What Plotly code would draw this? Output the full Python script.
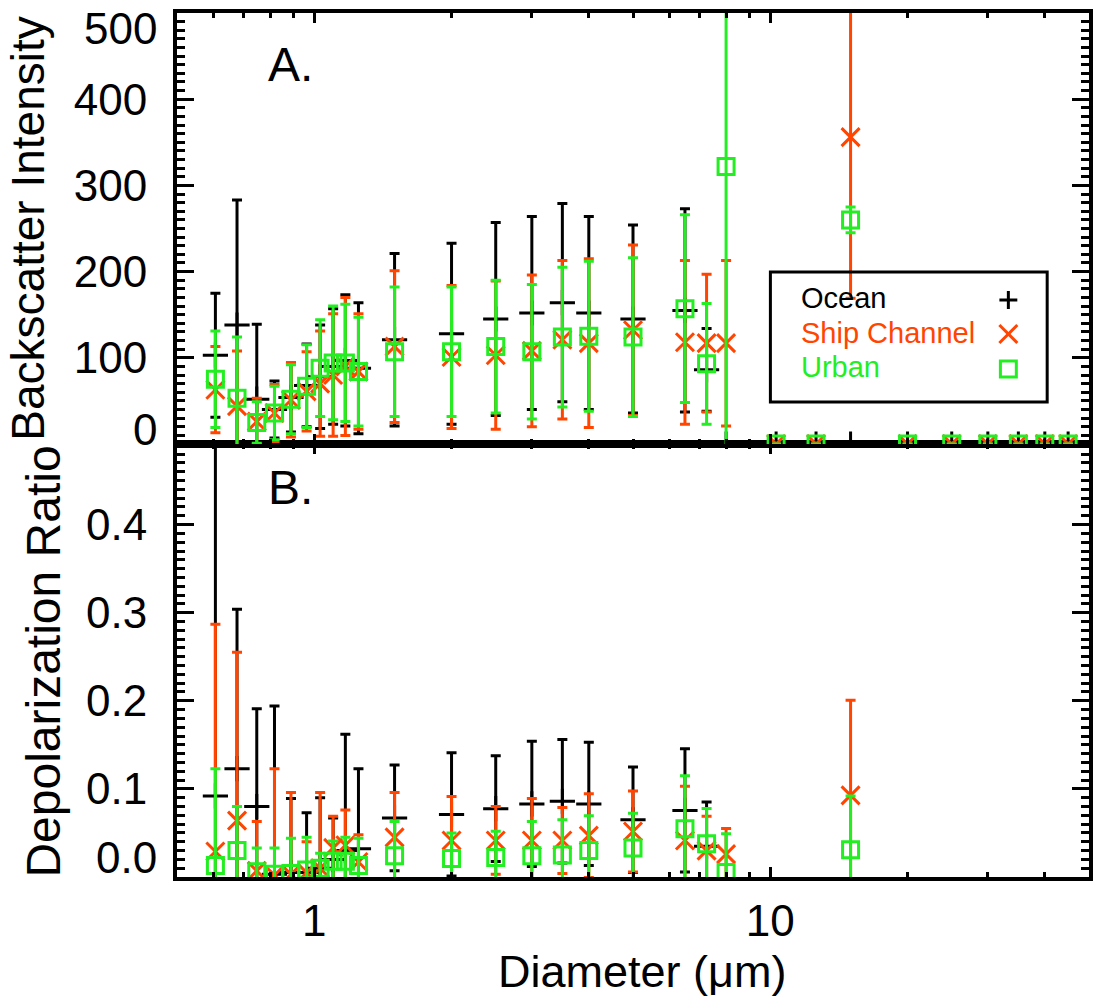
import math
import plotly.graph_objects as go

# ---------------- data ----------------
diameter = [0.607, 0.677, 0.748, 0.818, 0.889, 0.962, 1.03, 1.10, 1.17, 1.25,
            1.5, 2.0, 2.5, 3.0, 3.5, 4.0, 5.0, 6.5, 7.25, 8.0,
            10.3, 12.6, 15.0, 20.0, 25.0, 30.0, 35.0, 40.0, 45.0]

# Panel A: backscatter intensity (value, error)
ocean_bs = [103, 138, 52, 40, 54, 68, 78, 90, 97, 88,
            121, 128, 145, 152, 164, 152, 145, 155, 86, 0,
            0, 0, 0, 0, 0, 0, 0, 0, 0]
ocean_bs_err = [72, 145, 87, 33, 40, 48, 60, 67, 76, 76,
                100, 105, 112, 112, 115, 112, 109, 118, 48, 0,
                0, 0, 0, 0, 0, 0, 0, 0, 0]
ship_bs = [63, 44, 26, 36, 51, 61, 70, 80, 90, 84,
           113, 101, 103, 108, 121, 117, 132, 118, 117, 117,
           0, 0, 356, 0, 0, 0, 0, 0, 0]
ship_bs_err = [50, 64, 27, 33, 43, 46, 61, 71, 80, 67,
               88, 83, 86, 88, 92, 98, 99, 95, 80, 96,
               0, 0, 187, 0, 0, 0, 0, 0, 0]
urban_bs = [75, 53, 25, 36, 52, 67, 88, 94, 94, 84,
            107, 107, 113, 107, 124, 125, 124, 157, 93, 322,
            0, 0, 260, 0, 0, 0, 0, 0, 0]
urban_bs_err = [56, 71, 24, 31, 40, 48, 56, 66, 68, 63,
                75, 75, 77, 78, 81, 87, 92, 109, 70, 400,
                0, 0, 15, 0, 0, 0, 0, 0, 0]

# Panel B: depolarization ratio (value, error)
N = None
ocean_dr = [0.092, 0.123, 0.080, 0.003, 0.005, 0.005, 0.010, 0.020, 0.030, 0.032,
            0.067, 0.071, 0.0775, 0.083, 0.086, 0.083, 0.065, 0.0756, 0.035, N,
            N, N, N, N, N, N, N, N, N]
ocean_dr_err = [0.45, 0.181, 0.111, 0.191, 0.084, 0.068, 0.080, 0.047, 0.132, 0.091,
                0.060, 0.070, 0.060, 0.071, 0.070, 0.070, 0.060, 0.070, 0.050, N,
                N, N, N, N, N, N, N, N, N]
ship_dr = [0.029, 0.064, 0.007, 0.002, 0.003, 0.005, 0.010, 0.033, 0.036, 0.017,
           0.045, 0.0415, 0.0415, 0.0415, 0.0415, 0.047, 0.0517, 0.0415, 0.030, 0.026,
           N, N, 0.0926, N, N, N, N, N, N]
ship_dr_err = [0.258, 0.191, 0.056, 0.121, 0.093, 0.035, 0.086, 0.036, 0.040, 0.031,
               0.051, 0.050, 0.0385, 0.0475, 0.0375, 0.0475, 0.046, 0.0615, 0.039, 0.029,
               N, N, 0.108, N, N, N, N, N, N]
urban_dr = [0.013, 0.030, 0.006, 0.003, 0.004, 0.008, 0.010, 0.018, 0.018, 0.013,
            0.024, 0.021, 0.022, 0.024, 0.025, 0.030, 0.033, 0.0548, 0.0377, 0.005,
            N, N, 0.031, N, N, N, N, N, N]
urban_dr_err = [0.110, 0.050, 0.027, 0.030, 0.040, 0.037, 0.017, 0.023, 0.027, 0.031,
                0.039, 0.029, 0.030, 0.039, 0.040, 0.0395, 0.0395, 0.060, 0.040, 0.044,
                N, N, 0.061, N, N, N, N, N, N]

series_names = ["Ocean", "Ship Channel", "Urban"]
bs_top_label = "500"
bs_bottom_label = "0"
dr_bottom_label = "0.0"

# ---------------- style ----------------
BLACK = "#000000"
RED = "#FF4500"
GREEN = "#22EE22"
FONT = "Liberation Sans, Arial, Helvetica, sans-serif"

W, H = 1096, 1004
L, R, T, B = 177, 1093, 13, 877


def px(x):
    return (x - L) / (R - L)


def py(y):
    return (B - y) / (B - T)


split = py(444)

styles = [
    dict(symbol="cross-thin", size=18, line=dict(color=BLACK, width=3), color=BLACK),
    dict(symbol="x-thin", size=18, line=dict(color=RED, width=3), color=RED),
    dict(symbol="square-open", size=16, line=dict(color=GREEN, width=3), color=GREEN),
]
colors = [BLACK, RED, GREEN]

fig = go.Figure()

top_sets = [(ocean_bs, ocean_bs_err), (ship_bs, ship_bs_err), (urban_bs, urban_bs_err)]
bot_sets = [(ocean_dr, ocean_dr_err), (ship_dr, ship_dr_err), (urban_dr, urban_dr_err)]

for i, (vals, errs) in enumerate(top_sets):
    fig.add_trace(go.Scatter(
        x=diameter, y=vals, mode="markers", name=series_names[i],
        xaxis="x2", yaxis="y2", showlegend=False,
        marker=styles[i],
        error_y=dict(type="data", array=errs, color=colors[i], thickness=3, width=5, visible=True),
    ))
for i, (vals, errs) in enumerate(bot_sets):
    fig.add_trace(go.Scatter(
        x=diameter, y=vals, mode="markers", name=series_names[i],
        xaxis="x", yaxis="y", showlegend=False,
        marker=styles[i],
        error_y=dict(type="data", array=errs, color=colors[i], thickness=3, width=5, visible=True),
    ))

xcommon = dict(
    type="log", range=[math.log10(0.5), math.log10(50)],
    tickmode="linear", tick0=0, dtick=1,
    ticks="inside", ticklen=10, tickwidth=3, tickcolor=BLACK,
    showline=True, linewidth=4, linecolor=BLACK, mirror="ticks",
    showgrid=False, zeroline=False,
    minor=dict(dtick="D1", ticks="inside", ticklen=5, tickwidth=2.5,
               tickcolor=BLACK, showgrid=False),
    tickfont=dict(family=FONT, size=44, color=BLACK),
)
ycommon = dict(
    tickmode="linear", tick0=0,
    ticks="inside", ticklen=17, tickwidth=3, tickcolor=BLACK,
    showline=True, linewidth=4, linecolor=BLACK, mirror="ticks",
    showgrid=False, zeroline=False,
    tickfont=dict(family=FONT, size=44, color=BLACK),
    ticklabelstandoff=17,
)

fig.update_layout(
    width=W, height=H,
    margin=dict(l=L, r=W - R, t=T, b=H - B, pad=0),
    paper_bgcolor="white", plot_bgcolor="white",
    font=dict(family=FONT, color=BLACK),
    showlegend=False,
    xaxis=dict(domain=[0, 1], anchor="y", ticklabelstandoff=2, **xcommon),
    xaxis2=dict(domain=[0, 1], anchor="y2", matches="x", showticklabels=False, **xcommon),
    yaxis=dict(domain=[0, split], anchor="x", range=[0, 0.4915], dtick=0.1,
               tickformat=".1f", labelalias={dr_bottom_label: " "},
               minor=dict(dtick=0.01, tick0=0, ticks="inside", ticklen=8, tickwidth=2.5,
                          tickcolor=BLACK, showgrid=False),
               **ycommon),
    yaxis2=dict(domain=[split, 1], anchor="x2", range=[0, 500], dtick=100,
                labelalias={bs_bottom_label: " ", bs_top_label: " "},
                minor=dict(dtick=10, tick0=0, ticks="inside", ticklen=8, tickwidth=2.5,
                           tickcolor=BLACK, showgrid=False),
                **ycommon),
)

ann = []


def text(x, y, s, size, color=BLACK, xanchor="center", angle=0):
    ann.append(dict(x=px(x), y=py(y), xref="paper", yref="paper", text=s, showarrow=False,
                    xanchor=xanchor, yanchor="middle", textangle=angle,
                    font=dict(family=FONT, size=size, color=color)))


# shifted extreme tick labels (as in the original)
text(159, 28, bs_top_label, 44, xanchor="right")
text(159, 430, bs_bottom_label, 44, xanchor="right")
text(159, 857, dr_bottom_label, 44, xanchor="right")

# panel letters
text(291, 64, "A.", 48)
text(291, 487, "B.", 48)

# axis titles
text(644, 971, "Diameter (\u03bcm)", 45)
text(27, 229, "Backscatter Intensity", 46, angle=-90)
text(42, 662, "Depolarization Ratio", 48, angle=-90)

# legend
legend_rows = [298, 333, 367]
for i, name in enumerate(series_names):
    text(802, legend_rows[i], name, 29, color=colors[i], xanchor="left")

fig.update_layout(annotations=ann)

shapes = []
shapes.append(dict(type="rect", xref="paper", yref="paper",
                   x0=px(773), x1=px(1051), y0=py(272), y1=py(402),
                   line=dict(color=BLACK, width=3), fillcolor="rgba(0,0,0,0)"))
sx = 1012
h = 9
# plus
shapes.append(dict(type="line", xref="paper", yref="paper", x0=px(sx - h), x1=px(sx + h),
                   y0=py(300), y1=py(300), line=dict(color=BLACK, width=3)))
shapes.append(dict(type="line", xref="paper", yref="paper", x0=px(sx), x1=px(sx),
                   y0=py(300 - h), y1=py(300 + h), line=dict(color=BLACK, width=3)))
# cross
shapes.append(dict(type="line", xref="paper", yref="paper", x0=px(sx - h), x1=px(sx + h),
                   y0=py(334 - h), y1=py(334 + h), line=dict(color=RED, width=3)))
shapes.append(dict(type="line", xref="paper", yref="paper", x0=px(sx - h), x1=px(sx + h),
                   y0=py(334 + h), y1=py(334 - h), line=dict(color=RED, width=3)))
# square
shapes.append(dict(type="rect", xref="paper", yref="paper", x0=px(sx - 8), x1=px(sx + 8),
                   y0=py(369 - 8), y1=py(369 + 8), line=dict(color=GREEN, width=3)))
fig.update_layout(shapes=shapes)

fig.write_html("out.html", config={"displayModeBar": False},
               post_script="document.body.style.margin='0';document.body.style.overflow='hidden';")
